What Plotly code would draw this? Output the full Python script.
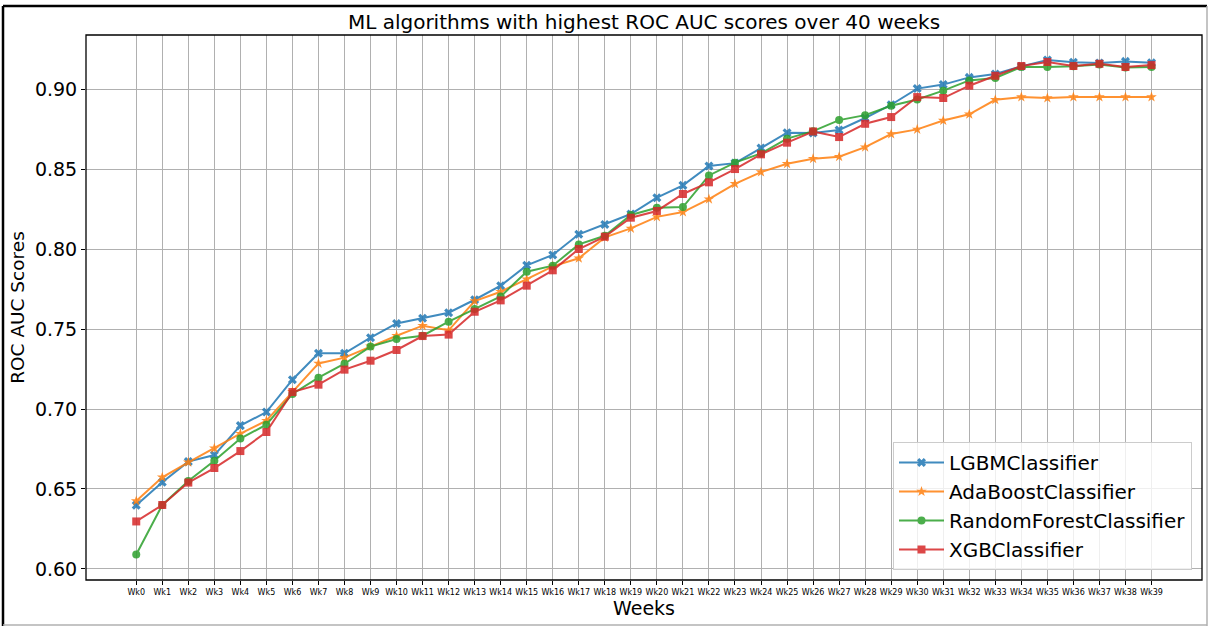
import plotly.graph_objects as go

weeks = [f"Wk{i}" for i in range(40)]

lgbm = [0.6398, 0.6542, 0.6671, 0.6712, 0.6896, 0.6981, 0.7183, 0.7348, 0.7348, 0.7446,
        0.7535, 0.7567, 0.7602, 0.7683, 0.7771, 0.7898, 0.7963, 0.8092, 0.8154, 0.8219,
        0.8321, 0.8398, 0.8519, 0.8537, 0.8631, 0.8727, 0.8725, 0.8744, 0.8819, 0.8902,
        0.9003, 0.9028, 0.9073, 0.9094, 0.9142, 0.9181, 0.9167, 0.9163, 0.9173, 0.9165]
ada = [0.6425, 0.6573, 0.6667, 0.6754, 0.6846, 0.6927, 0.7108, 0.7285, 0.7321, 0.7392,
       0.7458, 0.7521, 0.7492, 0.7675, 0.7733, 0.7812, 0.7892, 0.7942, 0.8073, 0.8129,
       0.8201, 0.8231, 0.8312, 0.8408, 0.8481, 0.8533, 0.8565, 0.8577, 0.8637, 0.8719,
       0.8748, 0.8803, 0.8842, 0.8933, 0.8950, 0.8944, 0.8950, 0.8950, 0.8950, 0.8950]
rf = [0.6091, 0.6400, 0.6550, 0.6677, 0.6815, 0.6902, 0.7094, 0.7196, 0.7283, 0.7390,
      0.7437, 0.7458, 0.7546, 0.7625, 0.7704, 0.7858, 0.7896, 0.8029, 0.8083, 0.8213,
      0.8258, 0.8262, 0.8460, 0.8540, 0.8598, 0.8690, 0.8737, 0.8806, 0.8837, 0.8896,
      0.8935, 0.8990, 0.9054, 0.9069, 0.9138, 0.9138, 0.9142, 0.9154, 0.9135, 0.9138]
xgb = [0.6297, 0.6400, 0.6540, 0.6631, 0.6737, 0.6856, 0.7106, 0.7152, 0.7246, 0.7302,
       0.7369, 0.7456, 0.7465, 0.7608, 0.7679, 0.7771, 0.7867, 0.8000, 0.8077, 0.8196,
       0.8238, 0.8344, 0.8417, 0.8500, 0.8592, 0.8665, 0.8735, 0.8700, 0.8783, 0.8825,
       0.8950, 0.8944, 0.9021, 0.9083, 0.9144, 0.9169, 0.9144, 0.9158, 0.9138, 0.9150]

series = [
    ("LGBMClassifier", lgbm, "#1f77b4", "x", 8),
    ("AdaBoostClassifier", ada, "#ff7f0e", "star", 8),
    ("RandomForestClassifier", rf, "#2ca02c", "circle", 8),
    ("XGBClassifier", xgb, "#d62728", "square", 8),
]

FONT = "DejaVu Sans"

fig = go.Figure()
for name, vals, color, symbol, size in series:
    fig.add_trace(go.Scatter(
        x=weeks, y=vals, name=name, mode="lines+markers",
        legendgroup=name,
        line=dict(color=color, width=2),
        marker=dict(symbol=symbol, size=size, color=color, line=dict(width=0)),
        opacity=0.85,
    ))

# plot area in pixels: left 86, right 1202, top 35, bottom 580
L, R, T, B = 86, 1202, 35, 580
W, H = 1208, 626
pw, ph = R - L, B - T


def px(x):
    return (x - L) / pw


def py(y):
    return (B - y) / ph


shapes = [
    # plot frame
    dict(type="rect", xref="paper", yref="paper", x0=0, x1=1, y0=0, y1=1,
         line=dict(color="black", width=1.3)),
    # outer figure frame
    dict(type="line", xref="paper", yref="paper", x0=px(3), x1=px(1207), y0=py(6), y1=py(6),
         line=dict(color="black", width=2.5)),
    dict(type="line", xref="paper", yref="paper", x0=px(3), x1=px(3), y0=py(6), y1=py(626),
         line=dict(color="black", width=2.5)),
    dict(type="line", xref="paper", yref="paper", x0=px(1207), x1=px(1207), y0=py(6), y1=py(626),
         line=dict(color="#b0b0b0", width=1.5)),
    dict(type="line", xref="paper", yref="paper", x0=px(3), x1=px(1207), y0=py(625), y1=py(625),
         line=dict(color="#b0b0b0", width=1.5)),
]

fig.update_layout(
    width=W, height=H,
    margin=dict(l=L, r=W - R, t=T, b=H - B, pad=0),
    paper_bgcolor="white", plot_bgcolor="white",
    font=dict(family=FONT, color="black"),
    title=dict(text="ML algorithms with highest ROC AUC scores over 40 weeks",
               x=px(644), xref="paper", xanchor="center",
               y=1 - 22 / H, yanchor="middle",
               font=dict(size=20, family=FONT, color="black")),
    xaxis=dict(
        type="category", range=[-1.93, 40.94],
        showgrid=True, gridcolor="#b0b0b0", gridwidth=1,
        ticks="outside", ticklen=4, tickcolor="black", tickwidth=1,
        tickfont=dict(size=8, family=FONT),
        tickangle=0,
        showline=False, zeroline=False,
        title=dict(text="Weeks", font=dict(size=19, family=FONT), standoff=6),
    ),
    yaxis=dict(
        range=[0.5931, 0.9338],
        tickvals=[0.60, 0.65, 0.70, 0.75, 0.80, 0.85, 0.90],
        tickformat=".2f",
        showgrid=True, gridcolor="#b0b0b0", gridwidth=1,
        ticks="outside", ticklen=4, tickcolor="black", tickwidth=1,
        tickfont=dict(size=19, family=FONT),
        showline=False, zeroline=False,
        title=dict(text="ROC AUC Scores", font=dict(size=18.5, family=FONT), standoff=5),
    ),
    legend=dict(
        x=px(1192), y=py(570), xanchor="right", yanchor="bottom",
        bgcolor="rgba(255,255,255,0.8)", bordercolor="#cccccc", borderwidth=1,
        font=dict(size=20, family=FONT),
        traceorder="grouped", tracegroupgap=0, itemwidth=45,
    ),
    shapes=shapes,
)

fig.write_html("out.html")
